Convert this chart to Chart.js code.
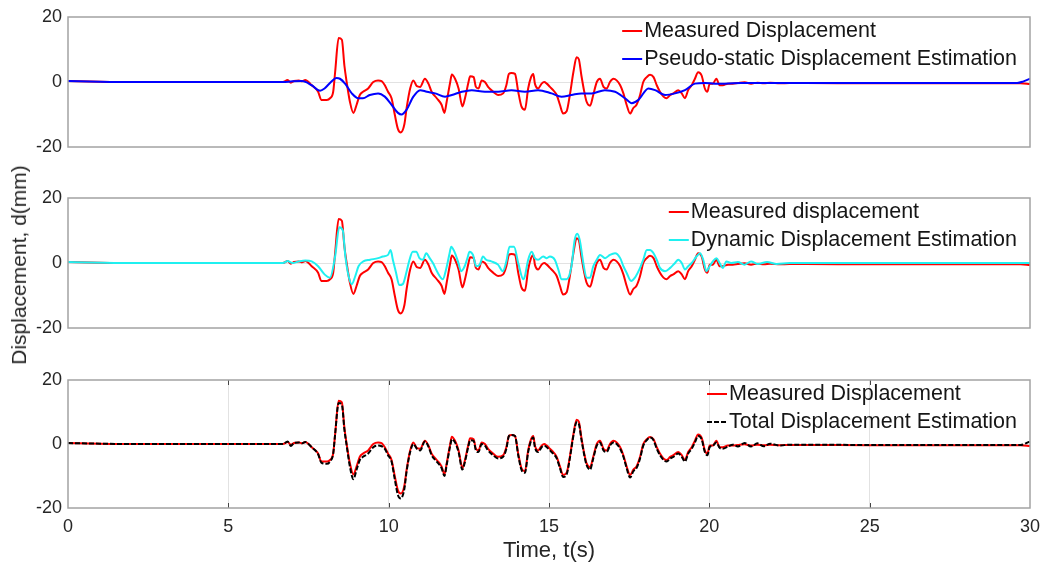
<!DOCTYPE html>
<html>
<head>
<meta charset="utf-8">
<script src="https://cdn.jsdelivr.net/npm/chart.js@4.4.1/dist/chart.umd.min.js"></script>
<style>
  body { margin: 0; background: #fff; }
  #wrap { position: relative; width: 1044px; height: 566px; overflow: hidden; background: #fff; }
  canvas { position: absolute; left: 0; }
  #ylab { position: absolute; left: 19px; top: 265px; transform: translate(-50%, -50%) rotate(-90deg);
          font: 21px 'Liberation Sans', Arial, sans-serif; color: #262626; white-space: nowrap; }
</style>
</head>
<body>
<div id="wrap">
  <canvas id="c1" width="1044" height="165" style="top:0px"></canvas>
  <canvas id="c2" width="1044" height="165" style="top:180px"></canvas>
  <canvas id="c3" width="1044" height="204" style="top:362px"></canvas>
  <div id="ylab">Displacement, d(mm)</div>
</div>
<script>
// measured displacement (same record in all three panels)
var tMeas = [
  0, 1, 2, 3, 4, 5, 6, 6.7, 6.85, 6.95,
  7.05, 7.2, 7.3, 7.4, 7.5, 7.6, 7.8, 7.9, 8.07, 8.17,
  8.27, 8.33, 8.44, 8.54, 8.62, 8.69, 8.79, 8.9, 9.0, 9.1,
  9.2, 9.36, 9.52, 9.67, 9.78, 9.88, 9.98, 10.09, 10.19, 10.29,
  10.38, 10.49, 10.56, 10.67, 10.77, 10.88, 10.98, 11.13, 11.24, 11.34,
  11.5, 11.65, 11.74, 11.81, 11.92, 11.97, 12.07, 12.18, 12.3, 12.38,
  12.49, 12.54, 12.65, 12.72, 12.8, 12.9, 13.0, 13.1, 13.26, 13.41,
  13.57, 13.67, 13.75, 13.83, 13.94, 14.04, 14.14, 14.25, 14.35, 14.44,
  14.51, 14.56, 14.66, 14.77, 14.85, 14.93, 15.03, 15.13, 15.24, 15.34,
  15.44, 15.55, 15.65, 15.76, 15.86, 15.93, 16.01, 16.1, 16.17, 16.28,
  16.38, 16.49, 16.59, 16.7, 16.8, 16.9, 17.01, 17.11, 17.22, 17.32,
  17.42, 17.53, 17.63, 17.73, 17.84, 17.94, 18.05, 18.15, 18.26, 18.36,
  18.46, 18.57, 18.67, 18.78, 18.88, 19.03, 19.14, 19.24, 19.34, 19.45,
  19.55, 19.65, 19.76, 19.86, 19.94, 20.01, 20.11, 20.22, 20.32, 20.42,
  20.58, 20.73, 20.89, 21.1, 21.3, 21.5, 21.7, 21.9, 22.2, 22.5,
  23, 25, 27, 29, 29.7, 30
];
var measured = [
  0.3, 0.1, 0, 0, 0, 0, 0, 0, 0.6, -0.2,
  0.3, 0.5, 0.2, 0.6, 0, -1, -3, -5.5, -5.5, -5,
  -3, 3, 13.5, 13, 5, 0, -6, -9.5, -7, -4,
  -3, -2, 0, 0.5, 0.3, -1, -3, -5, -10, -14.5,
  -15.5, -13, -8, -2, 0.5, -1.3, -1.5, 1, -0.5, -3,
  -5, -7, -9.5, -6, 0, 2.3, 1, -2, -7.5, -5,
  0, 1.8, 1.5, -1.5, -2, 0.5, 0, -1.5, -3, -4,
  -3.5, -1, 2.5, 2.8, 2.5, -3, -7.5, -8.5, -2, 1.5,
  2.5, -0.5, -2, -0.5, 0, -0.5, -1.5, -2.5, -4, -7,
  -9.7, -9, -4, 3, 7.6, 7, 2, -3, -6, -7.3,
  -4, 0, 1, -1.5, -2, 0, 1, 0.5, -1, -3.5,
  -7, -9.7, -8, -7, -4, 0, 1.5, 2.2, 1.5, -1,
  -3, -4.5, -5, -4, -3.5, -2.5, -3.5, -5, -2.5, -1,
  1, 3, 2, -2, -3, -0.5, -0.5, 1, -1, -1,
  -0.5, -0.5, -0.3, -0.1, -0.5, -0.2, -0.4, -0.2, -0.4, -0.3,
  -0.3, -0.4, -0.4, -0.4, -0.4, -0.6
];
// total displacement estimation (same time stamps as tMeas)
var totalEst = [
  0.3, 0.1, 0, 0, 0, 0, 0, 0, 0.8, -0.6,
  0.3, 0.5, 0.2, 0.6, 0, -1, -3.2, -5.8, -6.2, -5.5,
  -3, 3, 12.8, 12.3, 4.5, -0.5, -7, -11, -8, -5,
  -4, -3, -1, -0.5, -0.7, -1.5, -3.5, -5.5, -11, -16,
  -17, -14, -8.5, -2.5, 0, -1.5, -2, 0.8, -0.8, -3.5,
  -5.5, -7.5, -10, -6.5, -0.5, 1.5, 0.5, -2.5, -8, -5.5,
  -0.5, 1.2, 1, -2, -2.5, 0, -0.5, -2, -3.5, -4.5,
  -4, -1.5, 2.5, 2.8, 2.5, -3.5, -8, -9, -2.5, 1,
  2, -1, -2.5, -1, -0.5, -1, -2, -3, -4.5, -7.5,
  -10.3, -9.5, -4.5, 2.5, 6.8, 6.3, 1.5, -3.5, -6.5, -8,
  -4.5, -0.5, 0.5, -2, -2.5, -0.5, 0.5, 0, -1.5, -4,
  -7.5, -10.5, -8.5, -7.5, -4.5, -0.5, 1.2, 2, 1.2, -1.5,
  -3.5, -5, -5.5, -4.5, -4, -3, -4, -5.5, -3, -1.5,
  0.5, 2.5, 1.5, -2.5, -3.5, -1, -0.5, 0.5, -1.2, -1.5,
  -0.8, -0.2, -0.8, 0.3, -0.8, 0.2, -0.7, 0.1, -0.5, -0.2,
  -0.2, -0.3, -0.3, -0.3, -0.3, 0.8
];

// pseudo-static estimation
var tPseudo = [
  0, 1, 2, 6.7, 7.0, 7.3, 7.6, 7.86, 8.0, 8.2,
  8.37, 8.48, 8.64, 8.85, 9.05, 9.2, 9.41, 9.67, 9.88, 10.09,
  10.29, 10.4, 10.56, 10.77, 10.98, 11.19, 11.45, 11.76, 11.97, 12.28,
  12.59, 13.0, 13.41, 13.83, 14.25, 14.66, 15.08, 15.39, 15.7, 16.01,
  16.33, 16.74, 17.06, 17.37, 17.58, 17.79, 18.1, 18.31, 18.62, 18.93,
  19.24, 19.55, 19.86, 20.17, 20.48, 21, 25, 29.6, 29.8, 30
];
var pseudo = [
  0.3, 0.1, 0, 0, 0.2, 0.3, -1, -2.7, -2, 0,
  1.2, 1, -0.5, -3.5, -5, -5, -4, -3.5, -4.5, -7,
  -9.5, -10, -8.5, -4.5, -2.5, -3, -3.5, -4.5, -4, -3,
  -2.5, -3, -3, -2.5, -3, -2.5, -3.5, -4.5, -4, -3.5,
  -3.5, -2.5, -3, -5, -6.5, -5.5, -2, -2.5, -4, -3.5,
  -2.5, -0.5, -0.3, -0.5, -0.5, -0.3, -0.3, -0.3, 0.2, 1.0
];

// dynamic estimation
var tDyn = [
  0, 2, 6.7, 6.85, 7.0, 7.2, 7.4, 7.6, 7.8, 8.0,
  8.17, 8.33, 8.46, 8.57, 8.65, 8.75, 8.85, 8.96, 9.06, 9.21,
  9.42, 9.67, 9.82, 9.98, 10.06, 10.13, 10.23, 10.33, 10.44, 10.55,
  10.65, 10.75, 10.86, 10.96, 11.07, 11.17, 11.28, 11.38, 11.53, 11.69,
  11.79, 11.9, 11.95, 12.05, 12.16, 12.26, 12.37, 12.47, 12.52, 12.63,
  12.73, 12.84, 12.94, 13.04, 13.2, 13.41, 13.56, 13.67, 13.77, 13.91,
  14.04, 14.2, 14.25, 14.35, 14.46, 14.56, 14.66, 14.82, 14.93, 15.03,
  15.18, 15.29, 15.39, 15.55, 15.7, 15.8, 15.88, 15.96, 16.07, 16.17,
  16.28, 16.38, 16.49, 16.59, 16.75, 16.9, 17.06, 17.22, 17.32, 17.42,
  17.56, 17.68, 17.84, 17.94, 18.05, 18.15, 18.26, 18.36, 18.46, 18.62,
  18.78, 18.93, 19.03, 19.14, 19.24, 19.34, 19.45, 19.6, 19.71, 19.81,
  19.91, 20.01, 20.11, 20.22, 20.32, 20.42, 20.53, 20.68, 20.89, 21.1,
  21.3, 21.5, 21.8, 22.1, 22.5, 25, 30
];
var dynamic = [
  0.3, 0, 0, 0.6, 0, 0.5, 0.8, 0.5, -1, -3.5,
  -4.5, 2, 11, 10, 2, -4, -6.5, -4, -1, 0.5,
  1, 1.5, 2, 2.5, 4, 1, -3, -6.8, -6.5, -3,
  1, 3.5, 3.5, 1.5, 1, 3, 1.5, 0, -3, -5,
  -2, 3, 5, 3.5, 0.5, -2.5, -1, 2, 3.5, 2.5,
  -1, -0.5, 2, 1, 0.5, -0.5, -2.5, 0.5, 5, 5,
  0, -5, -4, 1, 3.5, 1.5, 1, 2, 1.5, 2,
  1, -2, -5, -5, -1, 7, 9, 7, 0, -4.5,
  -4.5, -1, 1, 2.5, 1.5, 2.5, 3, 1.5, -1, -3,
  -5.5, -4.5, -1.5, 1, 4, 4, 3, 1, -1.5, -2.5,
  -1.5, 0, 1, 0, -2, -1, 0, 2, 3, 1,
  -2.5, -1, 0.5, 1.5, 0, -1.5, 0.5, 0, 0.3, -0.5,
  0.5, -0.3, 0.3, -0.3, 0, 0, 0
];

var xTicks = [0, 5, 10, 15, 20, 25, 30];
var yTicks = [-20, 0, 20];

Chart.defaults.font.family = "'Liberation Sans', Arial, sans-serif";
Chart.defaults.color = '#262626';

function pts(t, v) {
  return t.map(function (x, i) { return { x: x, y: v[i] }; });
}

// axes box + inner tick marks, like the matlab figure
var boxPlugin = {
  id: 'box',
  afterDatasetsDraw: function (chart, args, opts) {
    var a = chart.chartArea, ctx = chart.ctx;
    ctx.save();
    if (opts.marks) {
      var xs = chart.scales.x;
      ctx.strokeStyle = '#444';
      ctx.lineWidth = 1;
      xTicks.forEach(function (v) {
        if (v <= 0 || v >= 30) return;
        var px = Math.round(xs.getPixelForValue(v)) + 0.5;
        ctx.beginPath();
        ctx.moveTo(px, a.top); ctx.lineTo(px, a.top + 5);
        ctx.moveTo(px, a.bottom); ctx.lineTo(px, a.bottom - 5);
        ctx.stroke();
      });
    }
    ctx.strokeStyle = '#a3a3a3';
    ctx.lineWidth = 1.5;
    ctx.strokeRect(a.left, a.top, a.right - a.left, a.bottom - a.top);
    ctx.restore();
  }
};

// legend in the upper right corner inside the axes
var keyPlugin = {
  id: 'key',
  afterDraw: function (chart) {
    var a = chart.chartArea, ctx = chart.ctx, ds = chart.data.datasets;
    ctx.save();
    ctx.font = "21.5px 'Liberation Sans', Arial, sans-serif";
    var w = 0;
    ds.forEach(function (d) { w = Math.max(w, ctx.measureText(d.label).width); });
    var left = a.right - 13 - w;
    ds.forEach(function (d, i) {
      var y = a.top + 14 + i * 28;
      ctx.strokeStyle = d.borderColor;
      ctx.lineWidth = 2;
      ctx.setLineDash(d.borderDash || []);
      ctx.beginPath(); ctx.moveTo(left - 22, y); ctx.lineTo(left - 2, y); ctx.stroke();
      ctx.setLineDash([]);
      ctx.fillStyle = '#161616';
      ctx.textBaseline = 'middle';
      ctx.textAlign = 'left';
      ctx.fillText(d.label, left, y);
    });
    ctx.restore();
  }
};

function makeChart(id, sets, pad, showX) {
  return new Chart(document.getElementById(id), {
    type: 'line',
    data: { datasets: sets },
    options: {
      responsive: false,
      animation: false,
      layout: { padding: pad },
      elements: { point: { radius: 0 }, line: { borderWidth: 2, cubicInterpolationMode: 'monotone' } },
      plugins: { legend: { display: false }, tooltip: { enabled: false }, box: { marks: showX } },
      scales: {
        x: {
          type: 'linear', min: 0, max: 30, display: showX,
          afterBuildTicks: function (s) { s.ticks = xTicks.map(function (v) { return { value: v }; }); },
          ticks: { padding: 8, font: { size: 18 }, maxRotation: 0 },
          grid: {
            drawTicks: false,
            color: function (c) { return (c.tick && c.tick.value > 0 && c.tick.value < 30) ? '#e2e2e2' : 'rgba(0,0,0,0)'; }
          },
          border: { display: false },
          title: { display: showX, text: 'Time, t(s)', font: { size: 22 }, padding: { top: 0, bottom: 2 } },
          afterFit: function (s) {
            if (!showX) return;
            s.height = 58;
            s.paddingLeft = 0;
            s.paddingRight = 0;
          }
        },
        y: {
          min: -20, max: 20,
          afterBuildTicks: function (s) { s.ticks = yTicks.map(function (v) { return { value: v }; }); },
          ticks: { padding: 6, font: { size: 18 } },
          grid: {
            drawTicks: false,
            color: function (c) { return (c.tick && c.tick.value === 0) ? '#e2e2e2' : 'rgba(0,0,0,0)'; }
          },
          border: { display: false },
          afterFit: function (s) { s.width = 68; }
        }
      }
    },
    plugins: [boxPlugin, keyPlugin]
  });
}

makeChart('c1', [
  { label: 'Measured Displacement', data: pts(tMeas, measured), borderColor: '#ff0000', order: 1 },
  { label: 'Pseudo-static Displacement Estimation', data: pts(tPseudo, pseudo), borderColor: '#0000ff', order: 0 }
], { top: 17, bottom: 18, left: 0, right: 14 }, false);

makeChart('c2', [
  { label: 'Measured displacement', data: pts(tMeas, measured), borderColor: '#ff0000', order: 1 },
  { label: 'Dynamic Displacement Estimation', data: pts(tDyn, dynamic), borderColor: '#1ff0f0', order: 0 }
], { top: 18, bottom: 17, left: 0, right: 14 }, false);

makeChart('c3', [
  { label: 'Measured Displacement', data: pts(tMeas, measured), borderColor: '#ff0000', order: 1 },
  { label: 'Total Displacement Estimation', data: pts(tMeas, totalEst), borderColor: '#000000', borderDash: [5, 2], order: 0 }
], { top: 18, bottom: 0, left: 0, right: 14 }, true);
</script>
</body>
</html>
